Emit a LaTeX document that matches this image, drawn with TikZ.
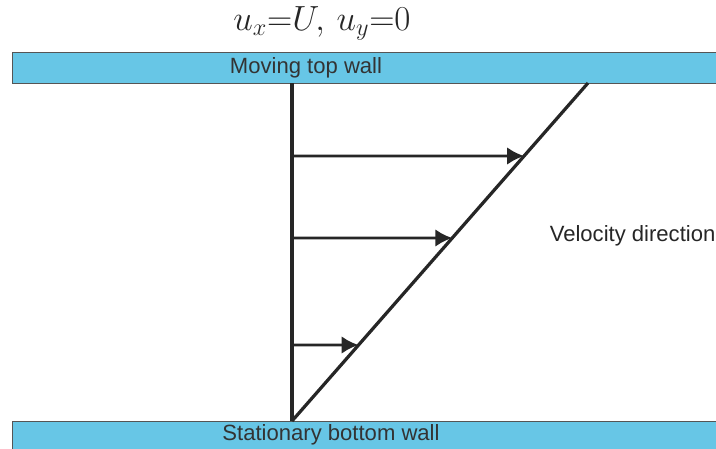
\documentclass[tikz,border=0pt]{standalone}
\usepackage{fontspec}
\setmainfont{Liberation Sans}
\usetikzlibrary{arrows.meta,calc}
\definecolor{ink}{HTML}{262626}
\definecolor{label}{HTML}{333333}
\definecolor{wall}{HTML}{67C6E6}
\definecolor{edge}{HTML}{555555}

\begin{document}
\begin{tikzpicture}[x=1cm,y=1cm,font=\fontsize{15.7}{18}\selectfont,text=label,
    wallbar/.style={fill=wall,draw=edge,line width=0.6pt},
    profile/.style={draw=ink,line width=2.3pt},
    velarrow/.style={draw=ink,line width=2pt,-{Latex[length=12pt,width=12.5pt]}}]
  \path[fill=white] (0,0) rectangle (17.9,11.2);
  \useasboundingbox (0,0) rectangle (17.9,11.2);

  % walls
  \path[wallbar] (0.30,9.125) rectangle (17.95,9.90);
  \path[wallbar] (0.30,-0.10) rectangle (17.95,0.675);
  \node (toplabel) at (7.65,9.50) {Moving top wall};
  \node (botlabel) at (8.275,0.34) {Stationary bottom wall};
  \node[font=\fontsize{24.5}{28}\selectfont,text=ink] (bc) at (8.05,10.62) {$u_x{=}U,\,u_y{=}0$};

  % velocity profile
  \coordinate (origin) at (7.30,0.675);
  \coordinate (wallref) at (7.30,9.125);
  \coordinate (tip) at (14.70,9.125);
  \draw[profile] (origin) -- (wallref);
  \draw[profile] (origin) -- (tip);

  \foreach \h/\name in {7.30/a,5.25/b,2.575/c}{
    \coordinate (s\name) at (7.30,\h);
    \coordinate (e\name) at ($(origin)!{(\h-0.675)/8.45}!(tip)$);
    \draw[velarrow] (s\name) -- (e\name);
  }

  \node[anchor=west,text=ink] (vdir) at (13.62,5.30) {Velocity direction};
\end{tikzpicture}
\end{document}
